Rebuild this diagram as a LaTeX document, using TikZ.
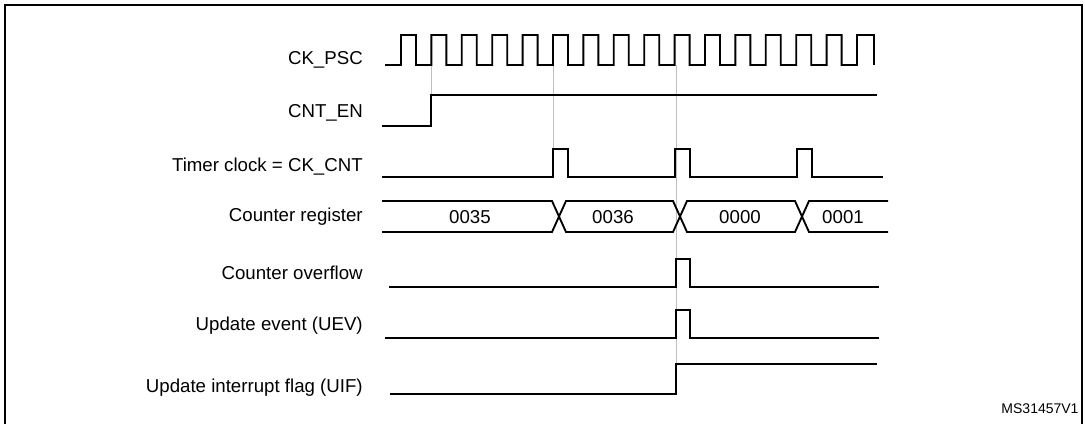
\documentclass[tikz,border=0pt]{standalone}
\usepackage{fontspec}
\setmainfont{Liberation Sans}
\begin{document}
\begin{tikzpicture}[x=0.75pt,y=-0.75pt,
  sig/.style={line width=1.4pt,line join=miter},
  guide/.style={draw=black!25,line width=0.6pt},
  lbl/.style={anchor=east,inner sep=0pt,font=\fontsize{14}{16}\selectfont},
  val/.style={inner sep=0pt,font=\fontsize{14}{16}\selectfont}]
\useasboundingbox (0,0) rectangle (1085,424);
\draw[line width=1.2pt] (5,424) -- (5,5) -- (1082,5) -- (1082,424);
% guides
\draw[guide] (431,65) -- (431,95);
\draw[guide] (553,65) -- (553,177);
\draw[guide] (676,65) -- (676,394);
% labels
\node[lbl] (l1) at (363,60) {CK\_PSC};
\node[lbl] (l2) at (363,113) {CNT\_EN};
\node[lbl] (l3) at (363,167) {Timer clock = CK\_CNT};
\node[lbl] (l4) at (363,217) {Counter register};
\node[lbl] (l5) at (363,273) {Counter overflow};
\node[lbl] (l6) at (363,326) {Update event (UEV)};
\node[lbl] (l7) at (363,388) {Update interrupt flag (UIF)};
% CK_PSC
\draw[sig] (385,65) -- (401,65)
  \foreach \i in {0,...,14} { -- ({401+\i*30.4},35) -- ({416+\i*30.4},35) -- ({416+\i*30.4},65) -- ({431.4+\i*30.4},65) }
  -- (857,35) -- (874,35) -- (874,65);
% CNT_EN
\draw[sig] (382,126) -- (431,126) -- (431,95) -- (877,95);
% Timer clock
\draw[sig] (382,177) -- (553,177) -- (553,149) -- (568,149) -- (568,177)
  -- (675,177) -- (675,149) -- (690,149) -- (690,177)
  -- (797,177) -- (797,149) -- (812,149) -- (812,177) -- (883,177);
% Counter register
\draw[sig] (382,201) -- (552,201) -- (559,216.5) -- (552,232) -- (382,232);
\draw[sig] (559,216.5) -- (566,201) -- (673,201) -- (680,216.5) -- (673,232) -- (566,232) -- cycle;
\draw[sig] (680,216.5) -- (687,201) -- (795,201) -- (802,216.5) -- (795,232) -- (687,232) -- cycle;
\draw[sig] (888,201) -- (809,201) -- (802,216.5) -- (809,232) -- (888,232);
\node[val] (v1) at (470,217) {0035};
\node[val] (v2) at (613,217) {0036};
\node[val] (v3) at (740,217) {0000};
\node[val] (v4) at (843,217) {0001};
% overflow
\draw[sig] (389,287) -- (676,287) -- (676,259) -- (690,259) -- (690,287) -- (879,287);
% UEV
\draw[sig] (385,338) -- (676,338) -- (676,310) -- (690,310) -- (690,338) -- (879,338);
% UIF
\draw[sig] (390,394) -- (676,394) -- (676,364) -- (877,364);
\node[inner sep=0pt,font=\fontsize{10.5}{12}\selectfont] (id) at (1040,409) {MS31457V1};
\end{tikzpicture}
\end{document}
